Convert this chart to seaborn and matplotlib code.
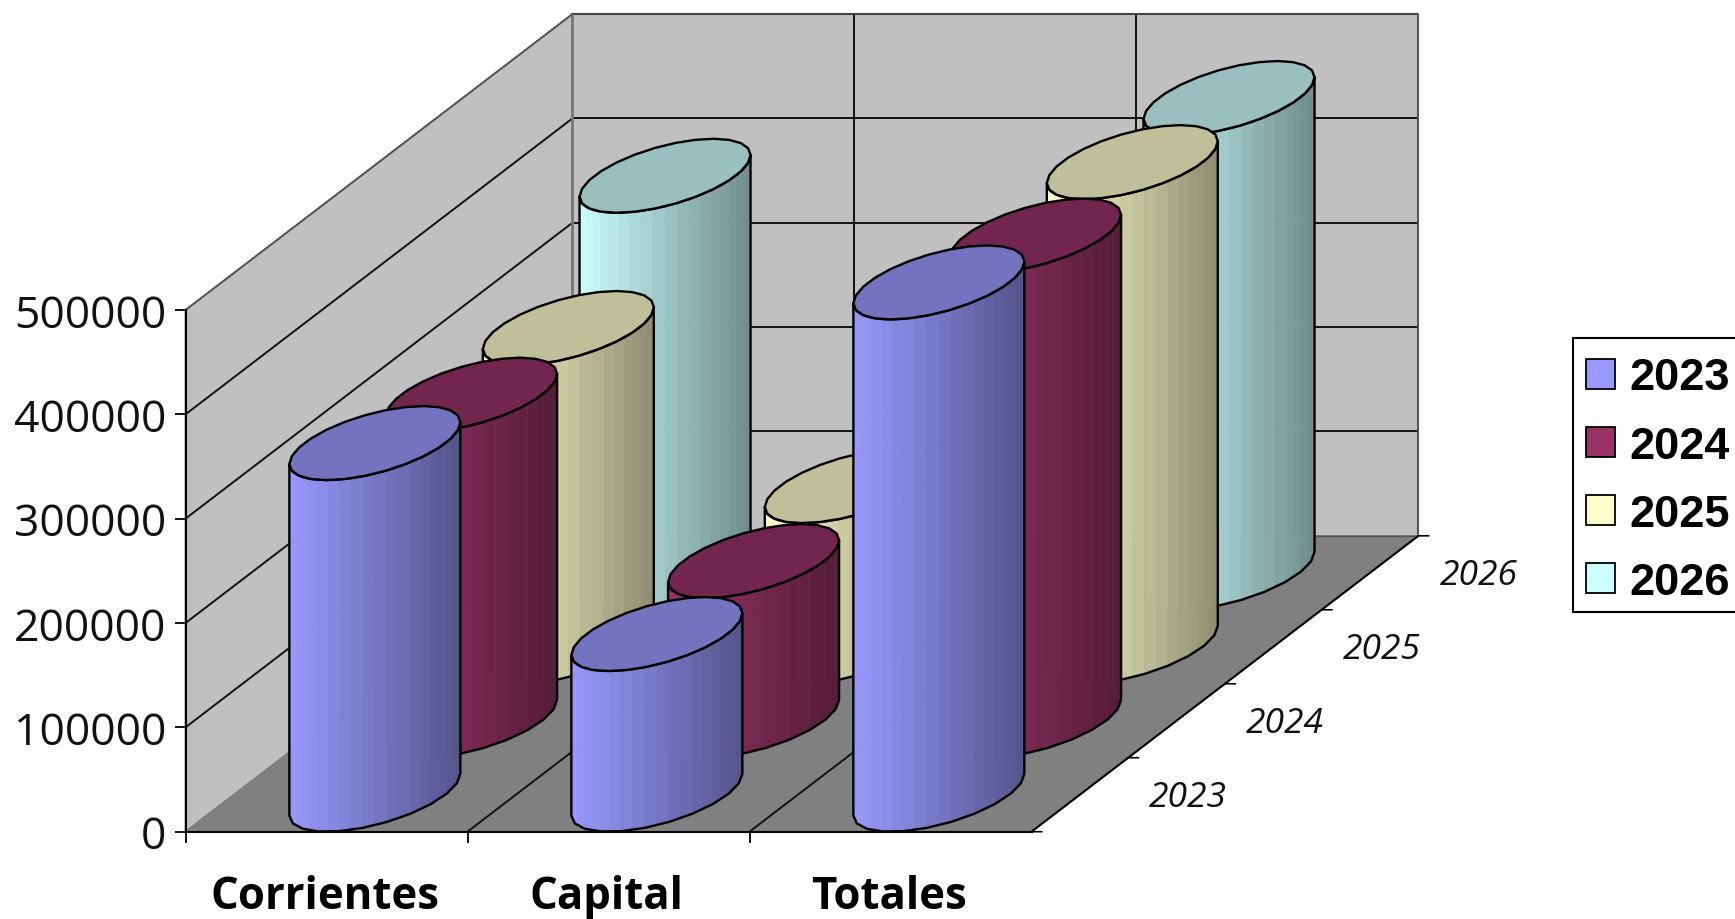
import numpy as np
import pandas as pd
import matplotlib
matplotlib.use("Agg")
import matplotlib.pyplot as plt
from matplotlib.patches import Polygon, Patch, Rectangle
from matplotlib.transforms import ScaledTranslation
import seaborn as sns

categories = ["Corrientes", "Capital", "Totales"]
years = ["2023", "2024", "2025", "2026"]
values_2023 = [337000, 154000, 491000]
values_2024 = [312500, 153000, 465000]
values_2025 = [305500, 154000, 464500]
values_2026 = [380500, 154000, 455000]
series = [values_2023, values_2024, values_2025, values_2026]
colors = ["#9999FF", "#993366", "#FFFFCC", "#CCFFFF"]
y_ticks = [0, 100000, 200000, 300000, 400000, 500000]

sns.set_theme(style="white")
plt.rcParams["font.family"] = ["Open Sans", "DejaVu Sans"]

W, H = 1735, 920
fig = plt.figure(figsize=(W / 100, H / 100), dpi=100, facecolor="white")
ax = fig.add_axes([185.5 / W, (H - 832.7) / H, 846 / W, 521.7 / H])

df = pd.DataFrame({
    "categoria": np.tile(categories, len(years)),
    "anio": np.repeat(years, len(categories)),
    "valor": np.concatenate(series),
})
sns.barplot(data=df, x="categoria", y="valor", hue="anio", ax=ax, legend=False,
            palette=colors, order=categories)
for c in list(ax.containers):
    c.remove()
ax.set_xlim(-0.5, 2.5)
ax.set_ylim(0, 500000)
ax.patch.set_visible(False)
ax.set_xlabel("")
ax.set_ylabel("")
sns.despine(ax=ax)

KX = 0.3430   # category units per depth step
KY = 70900.0  # value units per depth step
ND = len(years)
X0, X1 = -0.5, 2.5
Y1 = 500000


def proj(x, v, d):
    return (x + d * KX, v + d * KY)


def shade(col, f):
    r = np.array(matplotlib.colors.to_rgb(col)) * f
    return tuple(np.clip(r, 0, 1))


def poly(pts, z, **kw):
    p = Polygon(pts, closed=True, clip_on=False, zorder=z, **kw)
    ax.add_patch(p)
    return p


def line(a, b, z=1.5, color="#111111", lw=1.4):
    ax.plot([a[0], b[0]], [a[1], b[1]], color=color, lw=lw, clip_on=False,
            zorder=z, solid_capstyle="butt")


WALL = "#C0C0C0"
FLOOR = "#808080"
poly([proj(X0, 0, ND), proj(X1, 0, ND), proj(X1, Y1, ND), proj(X0, Y1, ND)], 1,
     facecolor=WALL, edgecolor="#555555", lw=1.2)
poly([proj(X0, 0, 0), proj(X0, 0, ND), proj(X0, Y1, ND), proj(X0, Y1, 0)], 1,
     facecolor=WALL, edgecolor="#666666", lw=1.2)
poly([proj(X0, 0, 0), proj(X1, 0, 0), proj(X1, 0, ND), proj(X0, 0, ND)], 1.2,
     facecolor=FLOOR, edgecolor=FLOOR, lw=0.8)

for v in y_ticks[1:-1]:
    line(proj(X0, v, 0), proj(X0, v, ND))
    line(proj(X0, v, ND), proj(X1, v, ND))
for x in [0.5, 1.5]:
    line(proj(x, 0, 0), proj(x, 0, ND))
    line(proj(x, 0, ND), proj(x, Y1, ND))
line(proj(X0, Y1, ND), proj(X1, Y1, ND), color="#444444", lw=1.5)
line(proj(X1, 0, ND), proj(X1, Y1, ND), color="#555555", lw=1.5)
line(proj(X0, Y1, 0), proj(X0, Y1, ND), color="#555555", lw=1.3)
line(proj(X0, 0, ND), proj(X1, 0, ND), color="#555555", lw=1.0)
line(proj(X0, 0, ND), proj(X0, Y1, ND), color="#777777", lw=2.0)
line(proj(X1, 0, 0), proj(X1, 0, ND), color="black", lw=1.5, z=1.6)

A = 0.25   # radius along categories
B = 0.5    # radius along depth
T0 = np.arctan2(B * KX, A)
N = 22


def rim(cx, d, v, t):
    x = cx + d * KX + A * np.cos(t) + B * np.sin(t) * KX
    y = v + d * KY + B * np.sin(t) * KY
    return x, y


z = 3.0
for i in range(ND - 1, -1, -1):
    for j in range(len(categories)):
        val = series[i][j]
        col = colors[i]
        d = i + 0.5
        ts = np.linspace(T0 - np.pi, T0, N + 1)
        bx, by = rim(j, d, 0, ts)
        tx, ty = rim(j, d, val, ts)
        for k in range(N):
            xm = 0.5 * (bx[k] + bx[k + 1])
            f = (xm - bx[0]) / (bx[-1] - bx[0])
            c = shade(col, 1.0 - 0.45 * f)
            poly([(bx[k], by[k]), (bx[k + 1], by[k + 1]), (tx[k + 1], ty[k + 1]), (tx[k], ty[k])],
                 z, facecolor=c, edgecolor=c, lw=0.4)
        z += 0.01
        outline = list(zip(bx[::2], by[::2])) + list(zip(tx[::-1], ty[::-1]))
        poly(outline, z, facecolor="none", edgecolor="black", lw=1.7, joinstyle="round")
        z += 0.01
        tt = T0 + np.linspace(0, 2 * np.pi, 27)
        ex, ey = rim(j, d, val, tt)
        poly(list(zip(ex, ey)), z, facecolor=shade(col, 0.75), edgecolor="black", lw=1.7, joinstyle="round")
        z += 0.01

# depth ticks and labels
for i in range(ND + 1):
    a = proj(X1, 0, i)
    ax.annotate("", xy=a, xytext=(7.5, 0), textcoords="offset points",
                arrowprops=dict(arrowstyle="-", color="black", lw=1.2, shrinkA=0, shrinkB=0),
                annotation_clip=False, zorder=2)
for i, y in enumerate(years):
    a = proj(X1, 0, i + 0.5)
    ax.annotate(y, xy=a, xytext=(78, -1.5), textcoords="offset points", ha="center", va="center",
                fontsize=25.5, style="italic", color="#111111", annotation_clip=False)

ax.set_yticks(y_ticks)
ax.set_yticklabels([str(v) for v in y_ticks], fontsize=32, color="#111111")
ax.set_xticks([-0.5, 0.5, 1.5])
ax.set_xticklabels(["", "", ""])
ax.set_xticks([0, 1, 2], minor=True)
ax.set_xticklabels(categories, minor=True, fontsize=31.5, fontweight="bold", color="black")
ax.tick_params(axis="x", which="minor", length=0, pad=30.5)
ax.tick_params(axis="x", which="major", length=8, width=1.3, color="black", bottom=True)
ax.tick_params(axis="y", length=8, width=1.3, color="black", pad=6, left=True)
for lab in ax.get_xticklabels(minor=True):
    lab.set_transform(lab.get_transform() + ScaledTranslation(-2 / 100, 0, fig.dpi_scale_trans))
for s in ["left", "bottom"]:
    ax.spines[s].set_color("black")
    ax.spines[s].set_linewidth(1.5)
    ax.spines[s].set_zorder(2)

fig.add_artist(Rectangle((1573 / W, 1 - 613 / H), 170 / W, 274 / H, transform=fig.transFigure,
                         facecolor="white", edgecolor="black", lw=1.5, zorder=5))
handles = [Patch(facecolor=c, edgecolor="black", lw=1.3, label=y) for c, y in zip(colors, years)]
leg = fig.legend(handles=handles, loc="upper left", bbox_to_anchor=(1586 / W, 1 - 358.5 / H),
                 bbox_transform=fig.transFigure, frameon=False,
                 borderaxespad=0, borderpad=0, labelspacing=0.6,
                 handlelength=0.64, handleheight=0.64, handletextpad=0.33, labelcolor="black",
                 prop={"family": "Liberation Sans", "weight": "bold", "size": 32.5})
leg.set_zorder(6)

fig.savefig("out.png", dpi=100, facecolor="white")
